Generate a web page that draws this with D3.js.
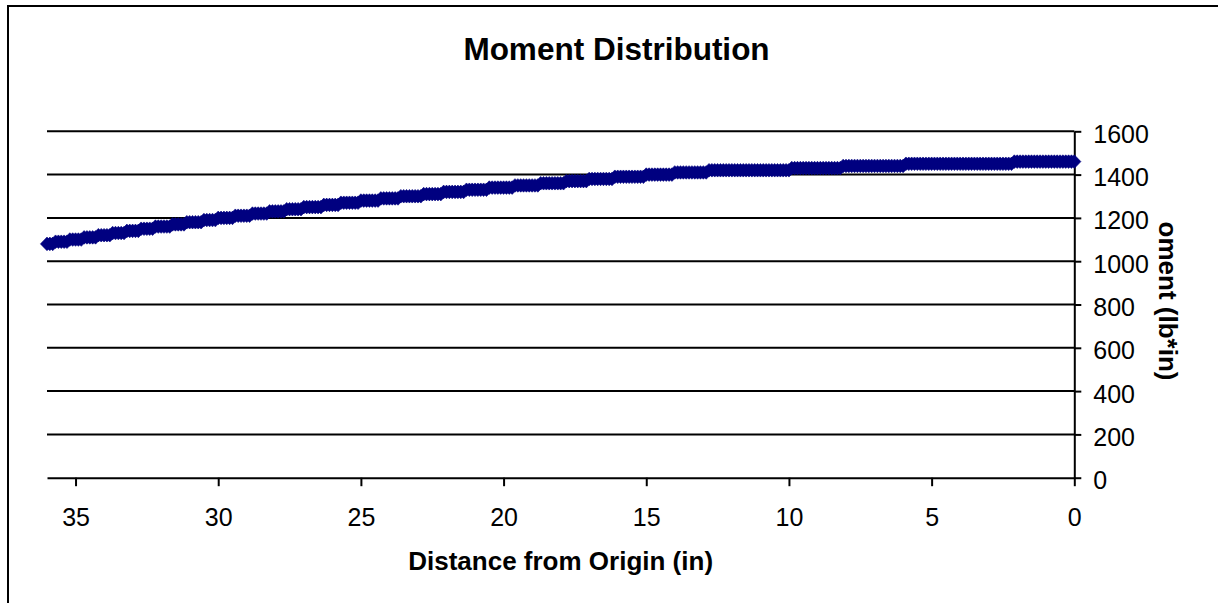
<!DOCTYPE html>
<html>
<head>
<meta charset="utf-8">
<script src="https://cdn.jsdelivr.net/npm/d3@7"></script>
<style>
  html, body { margin: 0; padding: 0; background: #fff; }
  svg { display: block; font-family: "Liberation Sans", Arial, sans-serif; }
</style>
</head>
<body>
<svg id="chart" width="1218" height="603"></svg>
<script>
// Bending moment sampled every 0.1 in along the member (one row per inch, 0 in -> 36 in)
const stationStep = 0.1;
const moment = [
  1460,1460,1460,1460,1460,1460,1460,1460,1460,1460,
  1460,1460,1460,1460,1460,1460,1460,1460,1460,1460,
  1460,1460,1450,1450,1450,1450,1450,1450,1450,1450,
  1450,1450,1450,1450,1450,1450,1450,1450,1450,1450,
  1450,1450,1450,1450,1450,1450,1450,1450,1450,1450,
  1450,1450,1450,1450,1450,1450,1450,1450,1450,1450,
  1440,1440,1440,1440,1440,1440,1440,1440,1440,1440,
  1440,1440,1440,1440,1440,1440,1440,1440,1440,1440,
  1440,1440,1430,1430,1430,1430,1430,1430,1430,1430,
  1430,1430,1430,1430,1430,1430,1430,1430,1430,1430,
  1420,1420,1420,1420,1420,1420,1420,1420,1420,1420,
  1420,1420,1420,1420,1420,1420,1420,1420,1420,1420,
  1420,1420,1420,1420,1420,1420,1420,1420,1420,1410,
  1410,1410,1410,1410,1410,1410,1410,1410,1410,1410,
  1410,1400,1400,1400,1400,1400,1400,1400,1400,1400,
  1400,1390,1390,1390,1390,1390,1390,1390,1390,1390,
  1390,1390,1380,1380,1380,1380,1380,1380,1380,1380,
  1380,1370,1370,1370,1370,1370,1370,1370,1370,1360,
  1360,1360,1360,1360,1360,1360,1360,1360,1350,1350,
  1350,1350,1350,1350,1350,1350,1350,1340,1340,1340,
  1340,1340,1340,1340,1340,1340,1330,1330,1330,1330,
  1330,1330,1330,1330,1320,1320,1320,1320,1320,1320,
  1320,1320,1310,1310,1310,1310,1310,1310,1310,1300,
  1300,1300,1300,1300,1300,1300,1300,1290,1290,1290,
  1290,1290,1290,1290,1280,1280,1280,1280,1280,1280,
  1280,1270,1270,1270,1270,1270,1270,1270,1260,1260,
  1260,1260,1260,1260,1250,1250,1250,1250,1250,1250,
  1250,1240,1240,1240,1240,1240,1240,1230,1230,1230,
  1230,1230,1230,1220,1220,1220,1220,1220,1220,1210,
  1210,1210,1210,1210,1210,1200,1200,1200,1200,1200,
  1200,1190,1190,1190,1190,1190,1180,1180,1180,1180,
  1180,1180,1170,1170,1170,1170,1170,1160,1160,1160,
  1160,1160,1160,1150,1150,1150,1150,1150,1140,1140,
  1140,1140,1140,1130,1130,1130,1130,1130,1120,1120,
  1120,1120,1120,1110,1110,1110,1110,1110,1100,1100,
  1100,1100,1100,1090,1090,1090,1090,1090,1080,1080,
  1080
];
const distance = moment.map((_, i) => +(i * stationStep).toFixed(1));

const xTicks = [35, 30, 25, 20, 15, 10, 5, 0];
const yTicks = [0, 200, 400, 600, 800, 1000, 1200, 1400, 1600];

const chartTitle = "Moment Distribution";
const xTitle = "Distance from Origin (in)";
const yTitle = "oment (lb*in)";

const svg = d3.select("#chart");

// Plot frame
const plot = { left: 47, right: 1074.3, top: 131.3, bottom: 477.7 };

const x = d3.scaleLinear().domain([36, 0]).range([plot.left, plot.right]);
const y = d3.scaleLinear().domain([0, 1600]).range([plot.bottom, plot.top]);

// Chart area border
svg.append("path")
  .attr("d", "M8,700 V6 H1300")
  .attr("fill", "none")
  .attr("stroke", "#000")
  .attr("stroke-width", 2);

// Title
svg.append("text")
  .attr("x", 616.5)
  .attr("y", 60)
  .attr("text-anchor", "middle")
  .attr("font-weight", "bold")
  .attr("font-size", 31.5)
  .attr("fill", "#000")
  .text(chartTitle);

// Horizontal gridlines
svg.append("g")
  .selectAll("line")
  .data(yTicks.filter(v => v > 0))
  .join("line")
  .attr("x1", plot.left)
  .attr("x2", plot.right)
  .attr("y1", d => y(d))
  .attr("y2", d => y(d))
  .attr("stroke", "#000")
  .attr("stroke-width", 2);

// X axis along the bottom
const xAxis = svg.append("g")
  .attr("transform", `translate(0,${plot.bottom})`)
  .call(d3.axisBottom(x).tickValues(xTicks).tickFormat(d3.format("d")).tickSize(8.5).tickSizeOuter(0));
xAxis.select(".domain").attr("stroke", "#000").attr("stroke-width", 2);
xAxis.selectAll(".tick line").attr("stroke", "#000").attr("stroke-width", 2);
xAxis.selectAll(".tick text")
  .attr("y", 48.5)
  .attr("dy", null)
  .attr("font-size", 25)
  .attr("font-family", "Liberation Sans, Arial, sans-serif")
  .attr("fill", "#000");

// Y axis on the right
const yAxis = svg.append("g")
  .attr("transform", `translate(${plot.right},0)`)
  .call(d3.axisRight(y).tickValues(yTicks).tickFormat(d3.format("d")).tickSize(7).tickPadding(12).tickSizeOuter(0));
yAxis.select(".domain").attr("stroke", "#000").attr("stroke-width", 2);
yAxis.selectAll(".tick line").attr("stroke", "#000").attr("stroke-width", 2);
yAxis.selectAll(".tick text")
  .attr("dy", "0.44em")
  .attr("font-size", 25)
  .attr("font-family", "Liberation Sans, Arial, sans-serif")
  .attr("fill", "#000");

// Axis titles
svg.append("text")
  .attr("x", (plot.left + plot.right) / 2)
  .attr("y", 570)
  .attr("text-anchor", "middle")
  .attr("font-weight", "bold")
  .attr("font-size", 26)
  .attr("fill", "#000")
  .text(xTitle);

svg.append("text")
  .attr("transform", "translate(1159,301) rotate(90)")
  .attr("text-anchor", "middle")
  .attr("font-weight", "bold")
  .attr("font-size", 26)
  .attr("fill", "#000")
  .text(yTitle);

// Diamond markers for each station
const hw = 6.6, hh = 6.8;
svg.append("g")
  .selectAll("path")
  .data(distance.map((d, i) => ({ d, m: moment[i] })))
  .join("path")
  .attr("transform", p => `translate(${x(p.d)},${y(p.m)})`)
  .attr("d", `M0,${-hh} L${hw},0 L0,${hh} L${-hw},0 Z`)
  .attr("fill", "#000080")
  .attr("stroke", "#000080")
  .attr("stroke-width", 0.6);
</script>
</body>
</html>
